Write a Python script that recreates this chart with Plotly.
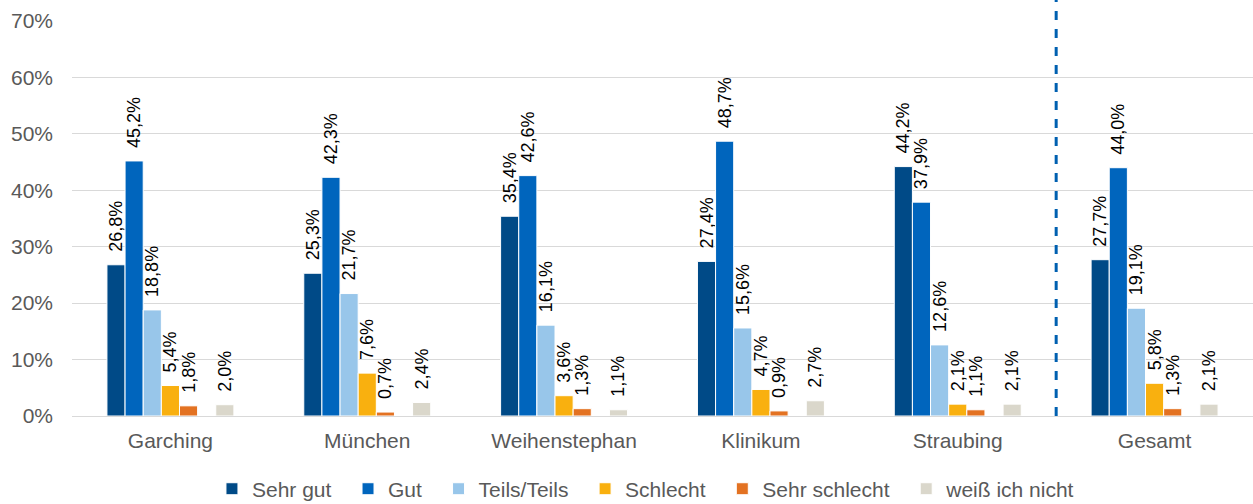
import plotly.graph_objects as go

standorte = ["Garching", "München", "Weihenstephan", "Klinikum", "Straubing", "Gesamt"]

sehr_gut = [26.8, 25.3, 35.4, 27.4, 44.2, 27.7]
gut = [45.2, 42.3, 42.6, 48.7, 37.9, 44.0]
teils = [18.8, 21.7, 16.1, 15.6, 12.6, 19.1]
schlecht = [5.4, 7.6, 3.6, 4.7, 2.1, 5.8]
sehr_schlecht = [1.8, 0.7, 1.3, 0.9, 1.1, 1.3]
weiss_nicht = [2.0, 2.4, 1.1, 2.7, 2.1, 2.1]

y_ticks = [0, 10, 20, 30, 40, 50, 60, 70]

reihen = [
    ("Sehr gut", sehr_gut, "#004A87"),
    ("Gut", gut, "#0065BD"),
    ("Teils/Teils", teils, "#98C6EA"),
    ("Schlecht", schlecht, "#F9B00F"),
    ("Sehr schlecht", sehr_schlecht, "#E37222"),
    (None, None, None),  # leerer Platz vor "weiß ich nicht"
    ("weiß ich nicht", weiss_nicht, "#DAD7CB"),
]

FONT = "Liberation Sans, Arial"
GRAU = "#595959"


def fmt(v):
    return "  " + f"{v:.1f}".replace(".", ",") + "%"


fig = go.Figure()
letzte = reihen[-1][0]
for name, werte, farbe in reihen:
    if werte is None:
        fig.add_trace(go.Bar(x=standorte, y=[None] * len(standorte),
                             showlegend=False, hoverinfo="skip"))
        continue
    # etwas mehr Abstand zwischen den Legendeneinträgen
    legendenname = name if name == letzte else name + "  "
    fig.add_trace(go.Bar(
        name=legendenname,
        x=standorte,
        y=werte,
        marker=dict(color=farbe, line=dict(color="white", width=1)),
        text=[fmt(v) for v in werte],
        textposition="outside",
        textangle=-90,
        constraintext="none",
        cliponaxis=False,
        textfont=dict(family=FONT, size=18, color="black"),
    ))

# gestrichelte Trennlinie vor "Gesamt"
fig.add_shape(type="line", xref="x", yref="paper",
              x0=4.5, x1=4.5, y0=0, y1=1.053,
              line=dict(color="#0060B0", width=3, dash="dash"))

fig.update_layout(
    barmode="group",
    bargap=0.355,
    bargroupgap=0,
    width=1253,
    height=504,
    margin=dict(l=72, r=0, t=21, b=88, autoexpand=False),
    plot_bgcolor="white",
    paper_bgcolor="white",
    font=dict(family=FONT, size=21, color=GRAU),
    legend=dict(orientation="h", x=0.486, xanchor="center", y=-0.185, yanchor="middle",
                font=dict(family=FONT, size=21, color=GRAU), itemwidth=30,
                traceorder="normal"),
    showlegend=True,
)
fig.update_xaxes(showgrid=False, showline=True, linecolor="#D9D9D9", linewidth=1,
                 ticks="", ticklabelstandoff=6,
                 tickfont=dict(family=FONT, size=21, color=GRAU))
fig.update_yaxes(range=[0, 70], tickvals=y_ticks,
                 ticktext=[f"{t}%" for t in y_ticks],
                 showgrid=True, gridcolor="#D9D9D9", gridwidth=1,
                 zeroline=False, showline=False, ticks="",
                 ticklabelstandoff=18,
                 tickfont=dict(family=FONT, size=21, color=GRAU))

fig.write_html("out.html")
